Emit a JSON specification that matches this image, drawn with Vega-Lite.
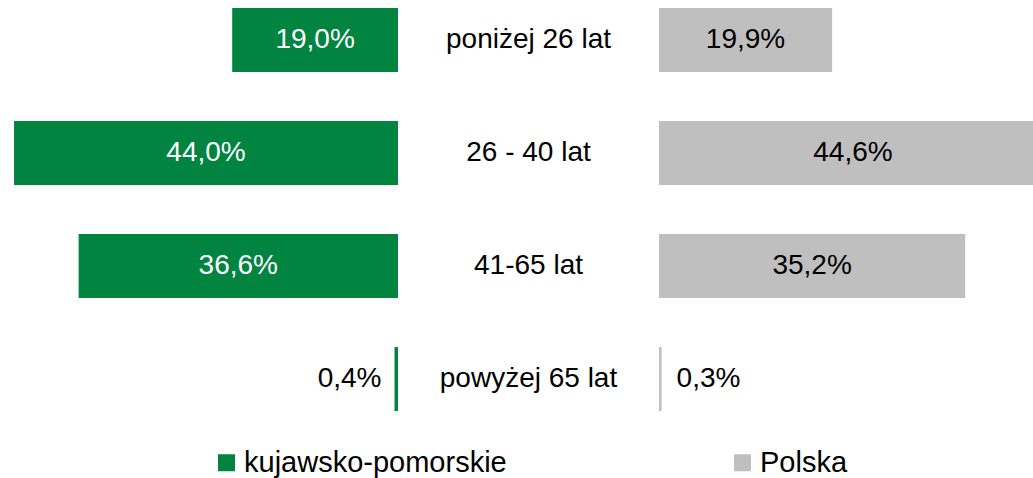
{
  "$schema": "https://vega.github.io/schema/vega-lite/v6.json",
  "padding": 0,
  "spacing": 0,
  "background": "white",
  "config": {
    "view": {"stroke": null},
    "font": "Liberation Sans",
    "concat": {"spacing": 0},
    "locale": {"number": {"decimal": ",", "thousands": " ", "grouping": [3], "currency": ["", " zł"]}}
  },
  "data": {
    "values": [
      {"grupa": "poniżej 26 lat", "region": "kujawsko-pomorskie", "udzial": 0.190},
      {"grupa": "26 - 40 lat", "region": "kujawsko-pomorskie", "udzial": 0.440},
      {"grupa": "41-65 lat", "region": "kujawsko-pomorskie", "udzial": 0.366},
      {"grupa": "powyżej 65 lat", "region": "kujawsko-pomorskie", "udzial": 0.004},
      {"grupa": "poniżej 26 lat", "region": "Polska", "udzial": 0.199},
      {"grupa": "26 - 40 lat", "region": "Polska", "udzial": 0.446},
      {"grupa": "41-65 lat", "region": "Polska", "udzial": 0.352},
      {"grupa": "powyżej 65 lat", "region": "Polska", "udzial": 0.003}
    ]
  },
  "hconcat": [
    {
      "width": 398,
      "height": 419,
      "transform": [{"filter": "datum.region === 'kujawsko-pomorskie'"}],
      "encoding": {
        "y": {"field": "grupa", "type": "nominal", "sort": ["poniżej 26 lat", "26 - 40 lat", "41-65 lat", "powyżej 65 lat"], "scale": {"type": "band", "paddingInner": 0.434, "paddingOuter": 0.0708}, "axis": null}
      },
      "layer": [
        {
          "mark": {"type": "bar"},
          "encoding": {
            "x": {"field": "udzial", "type": "quantitative", "scale": {"domain": [0, 0.4561], "reverse": true, "nice": false, "zero": true}, "axis": null},
            "color": {
              "field": "region", "type": "nominal",
              "scale": {"domain": ["kujawsko-pomorskie", "Polska"], "range": ["#00843F", "#BFBFBF"]},
              "legend": {"title": null, "orient": "none", "legendX": 212, "legendY": 448, "direction": "horizontal", "symbolType": "square", "symbolSize": 289, "symbolStrokeWidth": 0, "labelFontSize": 29, "labelOffset": 3, "labelColor": "#000000", "columnPadding": 221, "labelLimit": 400}
            }
          }
        },
        {
          "transform": [{"filter": "datum.udzial >= 0.05"}],
          "mark": {"type": "text", "color": "white", "fontSize": 28, "baseline": "middle", "align": "center"},
          "encoding": {
            "x": {"field": "udzial", "type": "quantitative", "scale": {"domain": [0, 0.9122], "reverse": true, "nice": false}, "axis": null},
            "text": {"field": "udzial", "type": "quantitative", "format": ".1%"}
          }
        },
        {
          "transform": [{"filter": "datum.udzial < 0.05"}],
          "mark": {"type": "text", "color": "black", "fontSize": 28, "baseline": "middle", "align": "right", "dx": -13},
          "encoding": {
            "x": {"field": "udzial", "type": "quantitative", "scale": {"domain": [0, 0.4561], "reverse": true, "nice": false}, "axis": null},
            "text": {"field": "udzial", "type": "quantitative", "format": ".1%"}
          }
        }
      ],
      "resolve": {"scale": {"x": "independent"}}
    },
    {
      "width": 261,
      "height": 419,
      "transform": [{"filter": "datum.region === 'kujawsko-pomorskie'"}],
      "mark": {"type": "text", "color": "black", "fontSize": 28, "baseline": "middle", "align": "center"},
      "encoding": {
        "y": {"field": "grupa", "type": "nominal", "sort": ["poniżej 26 lat", "26 - 40 lat", "41-65 lat", "powyżej 65 lat"], "scale": {"type": "band", "paddingInner": 0.434, "paddingOuter": 0.0708}, "axis": null},
        "text": {"field": "grupa", "type": "nominal"}
      }
    },
    {
      "width": 374,
      "height": 419,
      "transform": [{"filter": "datum.region === 'Polska'"}],
      "encoding": {
        "y": {"field": "grupa", "type": "nominal", "sort": ["poniżej 26 lat", "26 - 40 lat", "41-65 lat", "powyżej 65 lat"], "scale": {"type": "band", "paddingInner": 0.434, "paddingOuter": 0.0708}, "axis": null}
      },
      "layer": [
        {
          "mark": {"type": "bar", "clip": true},
          "encoding": {
            "x": {"field": "udzial", "type": "quantitative", "scale": {"domain": [0, 0.4299], "nice": false, "zero": true}, "axis": null},
            "color": {"field": "region", "type": "nominal", "scale": {"domain": ["kujawsko-pomorskie", "Polska"], "range": ["#00843F", "#BFBFBF"]}}
          }
        },
        {
          "transform": [{"filter": "datum.udzial >= 0.05"}],
          "mark": {"type": "text", "color": "black", "fontSize": 28, "baseline": "middle", "align": "center"},
          "encoding": {
            "x": {"field": "udzial", "type": "quantitative", "scale": {"domain": [0, 0.8598], "nice": false}, "axis": null},
            "text": {"field": "udzial", "type": "quantitative", "format": ".1%"}
          }
        },
        {
          "transform": [{"filter": "datum.udzial < 0.05"}],
          "mark": {"type": "text", "color": "black", "fontSize": 28, "baseline": "middle", "align": "left", "dx": 15},
          "encoding": {
            "x": {"field": "udzial", "type": "quantitative", "scale": {"domain": [0, 0.4299], "nice": false}, "axis": null},
            "text": {"field": "udzial", "type": "quantitative", "format": ".1%"}
          }
        }
      ],
      "resolve": {"scale": {"x": "independent"}}
    }
  ]
}
